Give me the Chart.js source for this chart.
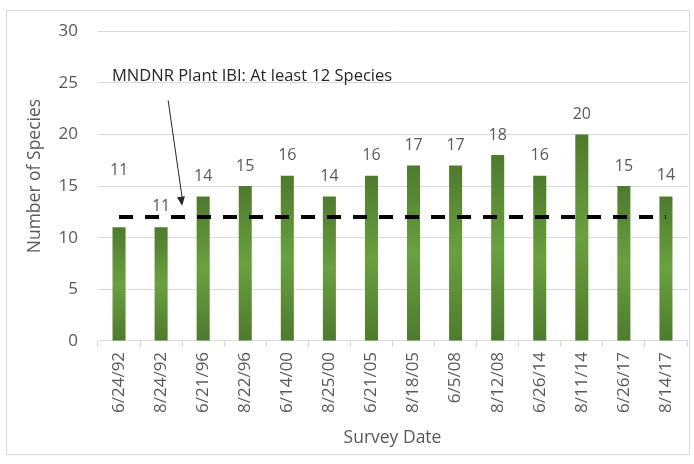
<!DOCTYPE html>
<html>
<head>
<meta charset="utf-8">
<script src="https://cdn.jsdelivr.net/npm/chart.js@4"></script>
<style>
  html, body { margin: 0; padding: 0; background: #fff; }
  #wrap { position: absolute; left: 6px; top: 10px; width: 684px; height: 445px; border: 1px solid #d9d9d9; box-sizing: border-box; }
  #chart { position: absolute; left: -6px; top: -10px; }
</style>
</head>
<body>
<div id="wrap"><canvas id="chart" width="694" height="464"></canvas></div>
<script>
// Survey dates and species counts
const surveyDates = ['6/24/92', '8/24/92', '6/21/96', '8/22/96', '6/14/00', '8/25/00', '6/21/05',
  '8/18/05', '6/5/08', '8/12/08', '6/26/14', '8/11/14', '6/26/17', '8/14/17'];
const speciesCounts = [11, 11, 14, 15, 16, 14, 16, 17, 17, 18, 16, 20, 15, 14];
// MNDNR Plant IBI threshold
const ibiTarget = [12, 12, 12, 12, 12, 12, 12, 12, 12, 12, 12, 12, 12, 12];
const yTicks = [0, 5, 10, 15, 20, 25, 30];
const noteText = 'MNDNR Plant IBI: At least 12 Species';
const yTitle = 'Number of Species';

const FONT = '"Open Sans", sans-serif';
const GREY = '#595959';

// green bar with dark ends and lighter middle
function barFill(context) {
  const chart = context.chart;
  const { ctx, chartArea, scales } = chart;
  if (!chartArea || context.type !== 'data') return '#5b8c35';
  const top = scales.y.getPixelForValue(context.raw);
  const bottom = scales.y.getPixelForValue(0);
  const g = ctx.createLinearGradient(0, top, 0, bottom);
  g.addColorStop(0, '#4e7a2d');
  g.addColorStop(0.5, '#6aa040');
  g.addColorStop(1, '#4e7a2d');
  return g;
}

// value labels above the bars (first one sits higher)
const labelLift = [57, 21, 20, 20, 20, 20, 20, 20, 20, 20, 20, 20, 20, 21];
const valueLabels = {
  id: 'valueLabels',
  afterDatasetsDraw(chart) {
    const ctx = chart.ctx;
    const meta = chart.getDatasetMeta(1);
    ctx.save();
    ctx.font = '16px ' + FONT;
    ctx.fillStyle = GREY;
    ctx.textAlign = 'center';
    ctx.textBaseline = 'middle';
    meta.data.forEach((bar, i) => {
      ctx.fillText(String(speciesCounts[i]), bar.x, bar.y - labelLift[i]);
    });
    ctx.restore();
  }
};

// y axis title, sitting a little above the middle of the axis
const sideTitle = {
  id: 'sideTitle',
  afterDraw(chart) {
    const { ctx, chartArea } = chart;
    ctx.save();
    ctx.translate(34, (chartArea.top + chartArea.bottom) / 2 - 10);
    ctx.rotate(-Math.PI / 2);
    ctx.font = '17.5px ' + FONT;
    ctx.fillStyle = GREY;
    ctx.textAlign = 'center';
    ctx.textBaseline = 'middle';
    ctx.fillText(yTitle, 0, 0);
    ctx.restore();
  }
};

// callout text with an arrow pointing at the threshold line
const callout = {
  id: 'callout',
  afterDatasetsDraw(chart) {
    const { ctx, scales } = chart;
    const x1 = (scales.x.getPixelForValue(1) + scales.x.getPixelForValue(2)) / 2;
    const y1 = scales.y.getPixelForValue(13.1);
    const x0 = x1 - 14;
    const y0 = scales.y.getPixelForValue(23.3);
    ctx.save();
    ctx.font = '16.5px ' + FONT;
    ctx.fillStyle = '#262626';
    ctx.textAlign = 'left';
    ctx.textBaseline = 'middle';
    ctx.fillText(noteText, 111, scales.y.getPixelForValue(25.6));

    ctx.strokeStyle = '#262626';
    ctx.lineWidth = 1;
    ctx.beginPath();
    ctx.moveTo(x0, y0);
    ctx.lineTo(x1, y1 - 8);
    ctx.stroke();
    const ang = Math.atan2(y1 - y0, x1 - x0);
    ctx.beginPath();
    ctx.moveTo(x1, y1);
    ctx.lineTo(x1 - 9 * Math.cos(ang) + 4 * Math.sin(ang), y1 - 9 * Math.sin(ang) - 4 * Math.cos(ang));
    ctx.lineTo(x1 - 9 * Math.cos(ang) - 4 * Math.sin(ang), y1 - 9 * Math.sin(ang) + 4 * Math.cos(ang));
    ctx.closePath();
    ctx.fillStyle = '#262626';
    ctx.fill();
    ctx.restore();
  }
};

new Chart(document.getElementById('chart'), {
  data: {
    labels: surveyDates,
    datasets: [
      {
        type: 'line',
        data: ibiTarget,
        borderColor: '#000',
        borderWidth: 4,
        borderDash: [14, 12],
        pointRadius: 0,
        fill: false,
        order: 0
      },
      {
        type: 'bar',
        data: speciesCounts,
        backgroundColor: barFill,
        borderWidth: 0,
        barPercentage: 0.31,
        categoryPercentage: 1,
        order: 1
      }
    ]
  },
  plugins: [valueLabels, callout, sideTitle],
  options: {
    responsive: false,
    animation: false,
    layout: { padding: { top: 19, right: 8, left: 22, bottom: 12 } },
    plugins: { legend: { display: false }, tooltip: { enabled: false } },
    scales: {
      x: {
        grid: { drawOnChartArea: false, drawTicks: true, tickLength: 6, color: '#d9d9d9' },
        border: { display: true, color: '#d9d9d9' },
        ticks: { color: GREY, font: { family: FONT, size: 17 }, minRotation: 90, maxRotation: 90, padding: 5 },
        title: { display: true, text: 'Survey Date', color: GREY, font: { family: FONT, size: 17.5 }, padding: { top: 10 } }
      },
      y: {
        min: 0,
        max: 30,
        afterBuildTicks(scale) { scale.ticks = yTicks.map(v => ({ value: v })); },
        afterFit(scale) { scale.width = 75; },
        grid: { color: '#d9d9d9', drawTicks: false },
        border: { display: false },
        ticks: { color: GREY, font: { family: FONT, size: 17 }, padding: 20 }
      }
    }
  }
});
</script>
</body>
</html>
